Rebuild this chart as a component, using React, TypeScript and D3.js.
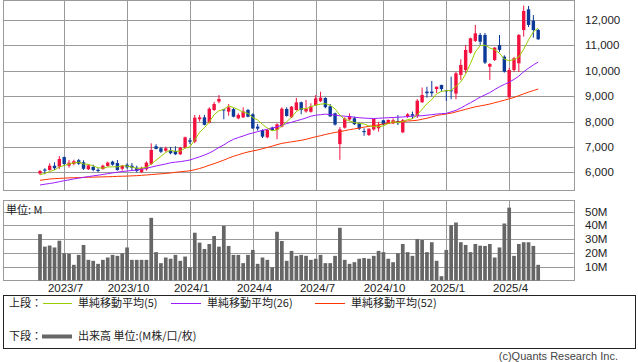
import React from "react";
import * as d3 from "d3";

// weekly bars, one per Monday from 2023-05-29 to 2025-05-19
const weeks = d3.utcMonday.range(new Date(Date.UTC(2023, 4, 29)), new Date(Date.UTC(2025, 4, 20)));

const open = [
  5950, 6110, 6090, 6260, 6220, 6600, 6260, 6330, 6475, 6395,
  6120, 6210, 6100, 6130, 6250, 6420, 6365, 6140, 6300, 6260,
  6180, 6010, 6120, 6330, 7025, 6945, 6850, 6880, 6840, 6710,
  6970, 7260, 7205, 8090, 8165, 7955, 8455, 8785, 8475, 8390,
  8490, 8125, 8165, 8455, 8285, 7800, 7665, 7380, 7760, 7665,
  7800, 8495, 8165, 8455, 8760, 8400, 8385, 8650, 8800, 8925,
  8600, 8325, 7110, 7758, 8080, 8128, 7940, 7627, 7470, 7690,
  7734, 8050, 7930, 7930, 8020, 7575, 8190, 8290, 8218, 8760,
  9180, 9180, 9280, 9440, 9230, 9230, 9100, 9835, 10030, 10710,
  11175, 11410, 11410, 10160, 10425, 11015, 10555, 8955, 10030, 10295,
  11605, 12420, 11975, 11605,
];
const high = [
  6090, 6160, 6355, 6395, 6640, 6620, 6485, 6495, 6525, 6475,
  6315, 6300, 6160, 6300, 6420, 6455, 6485, 6290, 6355, 6365,
  6260, 6220, 6430, 7140, 7105, 7000, 7010, 7000, 7025, 7000,
  7405, 7350, 8260, 8260, 8260, 8560, 8770, 9045, 8500, 8690,
  8530, 8325, 8560, 8495, 8325, 7905, 7695, 7695, 7800, 7930,
  8560, 8560, 8610, 8930, 8785, 8850, 8720, 9045, 9175, 8955,
  8690, 8350, 7780, 8165, 8320, 8190, 7955, 7735, 7720, 8090,
  7990, 8060, 8085, 8125, 8255, 8100, 8330, 8390, 8890, 9340,
  9370, 9600, 9380, 9450, 9250, 9770, 9950, 10450, 11015, 11300,
  11805, 11490, 11490, 10305, 10935, 11410, 10610, 10110, 10545, 11450,
  12565, 12550, 12195, 11645,
];
const low = [
  5900, 5920, 6065, 6090, 6130, 6250, 6180, 6275, 6290, 6090,
  6090, 6040, 6000, 6100, 6220, 6260, 6065, 6065, 6140, 6090,
  6000, 5970, 6065, 6290, 6905, 6760, 6810, 6710, 6680, 6680,
  6945, 7115, 7145, 7995, 7850, 7930, 8415, 8720, 8090, 8230,
  8165, 8090, 8140, 8165, 7705, 7640, 7350, 7340, 7625, 7300,
  7770, 8190, 8140, 8430, 8285, 8350, 8350, 8610, 8770, 8520,
  8190, 7840, 6490, 7720, 8035, 7865, 7665, 7440, 7430, 7640,
  7600, 7865, 7900, 7900, 7865, 7540, 8140, 8100, 8140, 8730,
  8940, 8990, 9125, 9175, 8810, 8880, 8880, 9640, 9910, 10670,
  11135, 11015, 10265, 9640, 10385, 10740, 9925, 8925, 9950, 9950,
  11345, 11725, 11305, 11215,
];
const close = [
  6050, 6065, 6260, 6160, 6525, 6330, 6380, 6435, 6340, 6140,
  6275, 6090, 6050, 6260, 6380, 6300, 6090, 6260, 6195, 6180,
  6050, 6160, 6380, 6880, 6920, 6810, 6945, 6750, 6710, 6970,
  7380, 7205, 8150, 8165, 7870, 8505, 8690, 8890, 8440, 8560,
  8190, 8260, 8400, 8190, 7730, 7720, 7405, 7665, 7665, 7890,
  8505, 8220, 8585, 8755, 8455, 8510, 8600, 8910, 8940, 8565,
  8200, 7880, 7690, 8120, 8210, 7895, 7720, 7580, 7720, 8110,
  7850, 7890, 8060, 8050, 7935, 8050, 8285, 8230, 8820, 9045,
  9115, 9115, 9370, 9280, 9200, 9190, 9900, 10230, 10820, 11280,
  11475, 11145, 10320, 10265, 10910, 10820, 9965, 10030, 10490, 11410,
  12355, 11805, 11605, 11240,
];

const ma5 = [
  5900, 5960, 6030, 6090, 6212, 6268, 6331, 6366, 6402, 6325,
  6314, 6256, 6179, 6163, 6211, 6216, 6216, 6258, 6245, 6205,
  6155, 6169, 6193, 6330, 6478, 6630, 6787, 6861, 6827, 6837,
  6951, 7003, 7283, 7574, 7754, 7979, 8276, 8424, 8479, 8617,
  8554, 8468, 8370, 8320, 8154, 8060, 7889, 7742, 7637, 7669,
  7826, 7989, 8173, 8391, 8504, 8505, 8581, 8646, 8683, 8705,
  8643, 8499, 8255, 8091, 8020, 7959, 7927, 7905, 7825, 7805,
  7796, 7830, 7926, 7992, 7957, 7997, 8076, 8110, 8264, 8486,
  8699, 8865, 9093, 9185, 9216, 9231, 9388, 9560, 9868, 10284,
  10741, 10990, 11008, 10897, 10823, 10692, 10456, 10398, 10443, 10543,
  10850, 11218, 11533, 11683,
];
const ma26 = [
  5500, 5530, 5560, 5590, 5630, 5670, 5700, 5740, 5770, 5800,
  5830, 5860, 5885, 5915, 5945, 5975, 6005, 6030, 6050, 6070,
  6090, 6120, 6160, 6205, 6250, 6290, 6330, 6375, 6400, 6420,
  6450, 6485, 6550, 6610, 6680, 6760, 6860, 6980, 7080, 7200,
  7300, 7370, 7430, 7500, 7550, 7600, 7650, 7700, 7740, 7790,
  7860, 7920, 7970, 8030, 8080, 8140, 8210, 8250, 8270, 8290,
  8280, 8250, 8225, 8210, 8195, 8170, 8150, 8135, 8125, 8120,
  8130, 8140, 8150, 8160, 8170, 8180, 8195, 8210, 8220, 8230,
  8250, 8270, 8295, 8310, 8320, 8380, 8440, 8530, 8640, 8740,
  8850, 8960, 9050, 9140, 9260, 9370, 9460, 9550, 9660, 9790,
  9960, 10100, 10230, 10345,
];
const ma52 = [
  5685, 5710, 5735, 5750, 5760, 5770, 5780, 5785, 5790, 5800,
  5805, 5810, 5815, 5820, 5825, 5830, 5840, 5845, 5850, 5860,
  5866, 5880, 5895, 5910, 5925, 5940, 5955, 5975, 6000, 6020,
  6040, 6060, 6100, 6150, 6210, 6280, 6340, 6410, 6480, 6560,
  6630, 6690, 6750, 6800, 6840, 6880, 6930, 6980, 7030, 7090,
  7140, 7170, 7200, 7230, 7260, 7300, 7350, 7400, 7440, 7490,
  7530, 7570, 7600, 7640, 7680, 7710, 7740, 7780, 7810, 7840,
  7870, 7900, 7930, 7960, 7990, 8005, 8020, 8035, 8050, 8090,
  8130, 8180, 8240, 8270, 8300, 8330, 8380, 8430, 8480, 8530,
  8580, 8615, 8650, 8690, 8740, 8790, 8840, 8895, 8950, 9020,
  9090, 9160, 9220, 9282,
];

// volume, millions
const volume = [
  33.7, 24.6, 25.4, 24.0, 28.9, 19.8, 19.4, 11.4, 18.6, 25.8,
  15.0, 14.3, 12.1, 15.0, 16.7, 18.6, 17.9, 19.8, 24.0, 15.0,
  15.0, 15.0, 15.0, 45.5, 20.6, 12.6, 16.7, 15.8, 18.6, 14.3,
  17.4, 9.5, 34.7, 27.5, 22.9, 26.5, 32.3, 24.6, 39.7, 25.1,
  18.6, 18.6, 12.6, 18.6, 22.2, 12.1, 16.7, 15.0, 9.5, 35.4,
  28.7, 14.3, 21.5, 17.9, 18.6, 17.9, 15.0, 15.8, 18.6, 12.6,
  12.6, 17.9, 38.3, 15.0, 12.1, 13.3, 15.8, 16.3, 15.8, 17.9,
  21.5, 20.6, 15.8, 13.3, 19.8, 26.5, 20.6, 17.9, 30.1, 29.4,
  20.6, 27.8, 14.3, 3.1, 22.2, 40.2, 42.1, 27.8, 25.8, 20.6,
  26.5, 25.3, 25.1, 26.5, 16.7, 24.0, 41.4, 52.9, 17.9, 26.5,
  27.8, 27.8, 25.1, 11.4,
];

const priceTicks = [6000, 7000, 8000, 9000, 10000, 11000, 12000];
const volumeTicks = [10, 20, 30, 40, 50];
const monthTickDates = ["2023-07-03", "2023-10-02", "2024-01-01", "2024-04-01", "2024-07-01", "2024-10-07", "2025-01-06", "2025-04-07"];
const monthTickLabels = ["2023/7", "2023/10", "2024/1", "2024/4", "2024/7", "2024/10", "2025/1", "2025/4"];

const UP = "#f2113f";
const DOWN = "#0b3a98";
const GRID = "#9a9a9a";
const LATIN = "'Liberation Sans', Arial, sans-serif";
const JP = "'Noto Sans CJK JP', sans-serif";

export default function App() {
  const left = 3.5, right = 574.5;
  const x = d3.scaleUtc().domain([weeks[0], weeks[weeks.length - 1]]).range([40, 538.2]);
  const y = d3.scaleLinear().domain([5283, 12768]).range([190.5, 0.5]);
  const yv = d3.scaleLinear().domain([0, 58.1]).range([280.5, 200.5]);

  const maLine = (vals: number[]) =>
    d3.line<number>().x((_, i) => x(weeks[i])).y((d) => y(d))(vals) || "";

  const tickX = monthTickDates.map((s) => Math.round(x(d3.utcParse("%Y-%m-%d")(s) as Date)) + 0.5);
  const bodyW = 3.4;
  const barW = 3.7;

  return (
    <svg width={638} height={362} style={{ position: "absolute", left: 0, top: 0, background: "#fff" }}>
      {/* price panel grid */}
      <g stroke={GRID} strokeWidth={1} shapeRendering="crispEdges">
        {priceTicks.map((t) => (
          <line key={t} x1={left} x2={right} y1={Math.round(y(t)) + 0.5} y2={Math.round(y(t)) + 0.5} />
        ))}
        {tickX.map((tx, i) => (
          <line key={"p" + i} x1={tx} x2={tx} y1={0.5} y2={190.5} />
        ))}
        <rect x={left} y={0.5} width={right - left} height={190} fill="none" />
        {volumeTicks.map((t) => (
          <line key={"v" + t} x1={left} x2={right} y1={Math.round(yv(t)) + 0.5} y2={Math.round(yv(t)) + 0.5} />
        ))}
        {tickX.map((tx, i) => (
          <line key={"q" + i} x1={tx} x2={tx} y1={200.5} y2={280.5} />
        ))}
        <rect x={left} y={200.5} width={right - left} height={80} fill="none" />
      </g>

      {/* candles */}
      <g>
        {weeks.map((w, i) => {
          const cx = x(w);
          const up = close[i] >= open[i];
          const c = up ? UP : DOWN;
          const top = y(Math.max(open[i], close[i]));
          const bot = y(Math.min(open[i], close[i]));
          return (
            <g key={i}>
              <line x1={cx} x2={cx} y1={y(high[i])} y2={y(low[i])} stroke={c} strokeWidth={1} />
              <rect x={cx - bodyW / 2} y={top} width={bodyW} height={Math.max(1, bot - top)} fill={c} />
            </g>
          );
        })}
      </g>

      {/* moving averages */}
      <g fill="none">
        <path d={maLine(ma52)} stroke="#ff3300" strokeWidth={1} />
        <path d={maLine(ma26)} stroke="#9b1cff" strokeWidth={1} />
        <path d={maLine(ma5)} stroke="#9acd00" strokeWidth={1} />
      </g>

      {/* volume bars */}
      <g fill="#666">
        {weeks.map((w, i) => (
          <rect key={i} x={x(w) - barW / 2} y={yv(volume[i])} width={barW} height={280.5 - yv(volume[i])} />
        ))}
      </g>

      {/* axis labels */}
      <g fontFamily={LATIN} fontSize={11.5} fill="#222">
        {priceTicks.map((t) => (
          <text key={t} x={585} y={y(t) + 4}>
            {d3.format(",")(t)}
          </text>
        ))}
        {volumeTicks.map((t) => (
          <text key={"v" + t} x={585} y={yv(t) + 4}>
            {t + "M"}
          </text>
        ))}
        {monthTickLabels.map((l, i) => (
          <text key={l} x={tickX[i] + 1} y={292} textAnchor="middle">
            {l}
          </text>
        ))}
      </g>
      <text x={6} y={214} fontFamily={JP} fontSize={11} fill="#222">
        単位: M
      </text>

      {/* legend */}
      <rect x={3.5} y={295.5} width={632} height={53} fill="none" stroke="#222" strokeWidth={1} />
      <g fontFamily={JP} fontSize={11} fill="#222">
        <text x={9} y={307}>上段：</text>
        <line x1={43} x2={72} y1={303.5} y2={303.5} stroke="#9acd00" strokeWidth={1} />
        <text x={78} y={307}>単純移動平均(5)</text>
        <line x1={171} x2={201} y1={303.5} y2={303.5} stroke="#9b1cff" strokeWidth={1} />
        <text x={207} y={307}>単純移動平均(26)</text>
        <line x1={315} x2={345} y1={303.5} y2={303.5} stroke="#ff3300" strokeWidth={1} />
        <text x={351} y={307}>単純移動平均(52)</text>
        <text x={9} y={340}>下段：</text>
        <line x1={42} x2={72} y1={336.5} y2={336.5} stroke="#666" strokeWidth={4} />
        <text x={78} y={340}>出来高 単位:(M株/口/枚)</text>
      </g>
      <text x={618} y={360} textAnchor="end" fontFamily={LATIN} fontSize={11} fill="#444">
        (c)Quants Research Inc.
      </text>
    </svg>
  );
}
